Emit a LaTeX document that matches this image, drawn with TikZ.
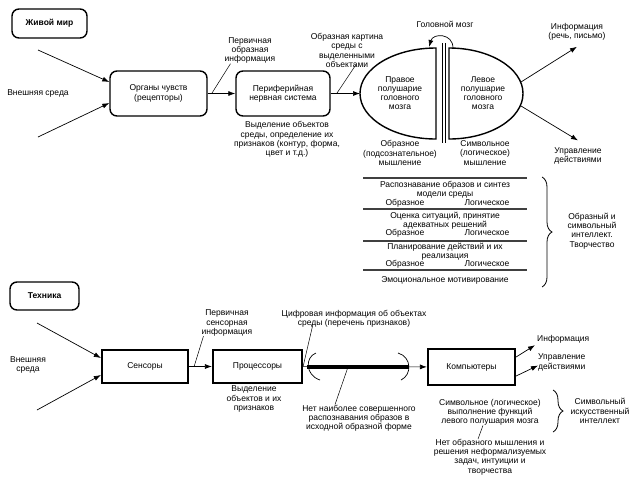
\documentclass[tikz,border=0pt]{standalone}
\usepackage{fontspec}
\setmainfont{Liberation Sans}
\usetikzlibrary{positioning, arrows.meta, calc, decorations.pathreplacing}

\begin{document}
\begin{tikzpicture}[x=1pt, y=-1pt,
  txt/.style={font=\fontsize{8.5}{9.2}\selectfont, align=center, inner sep=0pt},
  rbox/.style={draw, line width=1.4pt, rounded corners=7pt, txt},
  sbox/.style={draw, line width=2.2pt, txt},
  arr/.style={-{Latex[length=7pt, width=5pt]}, line width=0.7pt},
  note/.style={line width=0.5pt},
  hemi/.style={line width=1.4pt},
  brc/.style={decorate, decoration={brace, amplitude=10pt}, line width=0.8pt},
  sep/.style={line width=1.2pt, black!75}]
\useasboundingbox (0,0) rectangle (632,483);

\node[rbox, minimum width=75, minimum height=29, font=\fontsize{8.5}{9.2}\selectfont\bfseries] (live) at (49.5,23.5) {Живой мир};
\node[txt] (env1) at (38,93) {Внешняя среда};
\coordinate (e1a) at (38,50);
\coordinate (e1b) at (38,137);
\node[rbox, minimum width=97, minimum height=45] (organs) at (158.5,93.5) {Органы чувств\\(рецепторы)};
\node[rbox, minimum width=94, minimum height=45] (periph) at (283,93.5) {Периферийная\\нервная система};
\draw[arr] (e1a) -- ([yshift=11.5pt]organs.west);
\draw[arr] (e1b) -- ([yshift=-9.5pt]organs.west);
\draw[arr] (organs) -- (periph);
\node[txt] (prim) at (250,50.5) {Первичная\\образная\\информация};
\draw[note] ([xshift=4pt]organs.east) -- ([xshift=6pt]prim.south west);
\node[txt] (sel) at (287,139.5) {Выделение объектов\\среды, определение их\\признаков (контур, форма,\\цвет и т.д.)};

\coordinate (rhtop) at (436,48);
\coordinate (rhw) at (360,93.5);
\coordinate (lhtop) at (449,48);
\draw[hemi] (rhtop) arc[start angle=-90, end angle=-270, x radius=76, y radius=45.5] -- cycle;
\draw[hemi] (lhtop) arc[start angle=-90, end angle=90, x radius=74, y radius=45.5] -- cycle;
\draw[line width=0.7pt] (442,43) -- (442,143);
\draw[line width=0.7pt] (445,43) -- (445,143);
\draw[arr] (453,48) .. controls (453,33) and (433,33) .. (429,47);
\node[txt] (brain) at (445,24) {Головной мозг};
\draw[arr] (periph) -- (rhw);
\node[txt] (imgpic) at (347,50.5) {Образная картина\\среды с\\выделенными\\объектами};
\draw[note] ([xshift=6pt]periph.east) -- ($(imgpic.south)+(9,-3)$);

\node[txt] (rhtext) at (400,93) {Правое\\полушарие\\головного\\мозга};
\node[txt] (lhtext) at (483,93) {Левое\\полушарие\\головного\\мозга};
\node[txt] (rhbelow) at (400,153) {Образное\\(подсознательное)\\мышление};
\node[txt] (lhbelow) at (485,153) {Символьное\\(логическое)\\мышление};
\coordinate (lhe1) at (521,82);
\coordinate (lhe2) at (521,106);
\node[txt] (info1) at (577,32) {Информация\\(речь, письмо)};
\node[txt] (ctrl1) at (578,156) {Управление\\действиями};
\draw[arr] (lhe1) -- ([yshift=-6pt]info1.south);
\draw[arr] (lhe2) -- ([yshift=7pt]ctrl1.north);

\foreach \y in {178,209,241,270} \draw[sep] (363,\y) -- (527,\y);
\node[txt] (row1) at (445,190) {Распознавание образов и синтез\\модели среды};
\node[txt] (row2) at (445,220.5) {Оценка ситуаций, принятие\\адекватных решений};
\node[txt] (row3) at (445,251.5) {Планирование действий и их\\реализация};
\foreach \y in {203,233,264} {
  \node[txt] (img\y) at (405,\y) {Образное};
  \node[txt] (log\y) at (487,\y) {Логическое};
}
\node[txt] (emo) at (445,280) {Эмоциональное мотивирование};
\draw[brc] (542,177) -- (542,287);
\node[txt] (creat) at (592,231) {Образный и\\символьный\\интеллект.\\Творчество};

\node[rbox, minimum width=69, minimum height=28, font=\fontsize{8.5}{9.2}\selectfont\bfseries] (tech) at (44.5,296) {Техника};
\node[txt] (env2) at (28,365) {Внешняя\\среда};
\coordinate (e2a) at (37,323);
\coordinate (e2b) at (37,410);
\node[sbox, minimum width=86, minimum height=33] (sens) at (145,366.5) {Сенсоры};
\node[sbox, minimum width=89, minimum height=33] (proc) at (257.5,366.5) {Процессоры};
\node[sbox, minimum width=87, minimum height=36] (comp) at (471.5,367) {Компьютеры};
\draw[arr] (e2a) -- ([yshift=8.5pt]sens.west);
\draw[arr] (e2b) -- ([yshift=-8.5pt]sens.west);
\draw[arr] (sens) -- (proc);
\node[txt] (sinfo) at (227,323) {Первичная\\сенсорная\\информация};
\draw[note] ([xshift=5pt]sens.east) -- ([xshift=2pt]sinfo.south west);
\node[txt] (selobj) at (254,399) {Выделение\\объектов и их\\признаков};

\draw[arr] (proc) -- (comp);
\coordinate (thickL) at (307,367);
\coordinate (thickR) at (409,367);
\coordinate (thickmid) at (348,367);
\draw[line width=3.5pt] (thickL) -- (thickR);
\draw[line width=0.7pt] (316,353) .. controls (305,357) and (305,375) .. (320,380);
\draw[line width=0.7pt] (398,353) .. controls (412,357) and (412,375) .. (401,380);
\node[txt] (digi) at (354,319) {Цифровая информация об объектах\\среды (перечень признаков)};
\coordinate (digiend) at (313,324);
\draw[note] (proc.east) -- (digiend);
\node[txt] (nobest) at (359,418) {Нет наиболее совершенного\\распознавания образов в\\исходной образной форме};
\draw[note] (thickmid) -- ([xshift=-24pt]nobest.north);

\node[txt, anchor=west] (info2) at (537,339) {Информация};
\node[txt, anchor=west, align=left] (ctrl2) at (538,362.5) {Управление\\действиями};
\draw[arr] ([yshift=10pt]comp.east) -- ([xshift=-2pt,yshift=-2pt]info2.south west);
\draw[arr] ([yshift=-9pt]comp.east) -- ([yshift=-3pt]ctrl2.west);

\node[txt] (symb) at (490,412) {Символьное (логическое)\\выполнение функций\\левого полушария мозга};
\node[txt] (noimg) at (490,457) {Нет образного мышления и\\решения неформализуемых\\задач, интуиции и\\творчества};
\draw[note] ([xshift=-7pt]symb.south) -- ([xshift=-12pt]noimg.north);
\draw[brc] (553,390) -- (553,432);
\node[txt] (symai) at (600,411) {Символьный\\искусственный\\интеллект};
\end{tikzpicture}
\end{document}
